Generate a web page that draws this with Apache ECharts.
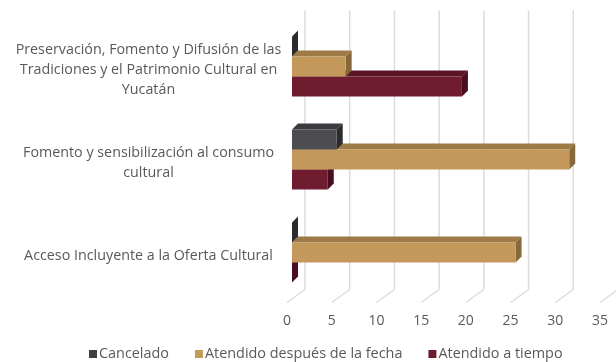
<!DOCTYPE html>
<html>
<head>
<meta charset="utf-8">
<script src="https://cdn.jsdelivr.net/npm/echarts/dist/echarts.min.js"></script>
<style>
html,body{margin:0;padding:0;background:#fff;}
#chart{width:616px;height:362px;}
</style>
</head>
<body>
<div id="chart"></div>
<script>
var categories = [
  "Preservación, Fomento y Difusión de las\nTradiciones y el Patrimonio Cultural en\nYucatán",
  "Fomento y sensibilización al consumo\ncultural",
  "Acceso Incluyente a la Oferta Cultural"
];
var seriesNames = ["Cancelado", "Atendido después de la fecha", "Atendido a tiempo"];
var cancelado = [0, 5, 0];
var atendidoDespues = [6, 31, 25];
var atendidoATiempo = [19, 4, 0];
var xTicks = [0, 5, 10, 15, 20, 25, 30, 35];

var FONT = "'Open Sans', sans-serif";
var TEXT = "#595959";
// 3D depth offsets (pixels)
var WALL_DX = 18, WALL_DY = -13;
var FACE_DX = 5, FACE_DY = -3.6;
var BAR_DX = 6, BAR_DY = -6;

var palette = [
  {front: "#4d4d51", top: "#3b3b3f", side: "#2c2c2f", legend: "#404040"},
  {front: "#c4975a", top: "#9e7b46", side: "#86683a", legend: "#c49a5a"},
  {front: "#701c30", top: "#5a1426", side: "#4a0f1e", legend: "#701c30"}
];

function barRenderer(idx) {
  var c = palette[idx];
  return function (params, api) {
    var cat = api.value(0), val = api.value(1);
    var p0 = api.coord([0, cat]);
    var p1 = api.coord([val, cat]);
    var band = api.size([0, 1])[1];
    var h = band * 0.215;
    var yTop = p0[1] + FACE_DY - 1.5 * h + idx * h;
    var x0 = p0[0] + FACE_DX, x1 = p1[0] + FACE_DX;
    return {
      type: 'group',
      children: [
        {type: 'polygon', shape: {points: [[x0, yTop], [x1, yTop], [x1 + BAR_DX, yTop + BAR_DY], [x0 + BAR_DX, yTop + BAR_DY]]}, style: {fill: c.top}},
        {type: 'polygon', shape: {points: [[x1, yTop], [x1 + BAR_DX, yTop + BAR_DY], [x1 + BAR_DX, yTop + h + BAR_DY], [x1, yTop + h]]}, style: {fill: c.side}},
        {type: 'rect', shape: {x: x0, y: yTop, width: Math.max(0, x1 - x0), height: h}, style: {fill: c.front}}
      ]
    };
  };
}

function gridRenderer(params, api) {
  var v = api.value(0);
  var cs = params.coordSys;
  var x = api.coord([v, 0])[0];
  var yb = cs.y + cs.height, yt = cs.y;
  var st = {stroke: "#dcdcdc", lineWidth: 1.5};
  return {
    type: 'group',
    children: [
      {type: 'line', shape: {x1: x + WALL_DX, y1: yt + WALL_DY, x2: x + WALL_DX, y2: yb + WALL_DY}, style: st},
      {type: 'line', shape: {x1: x, y1: yb, x2: x + WALL_DX, y2: yb + WALL_DY}, style: st}
    ]
  };
}

var values = [cancelado, atendidoDespues, atendidoATiempo];
var zs = [5, 4, 3];
var series = [{
  type: 'custom',
  name: '__grid',
  silent: true,
  clip: false,
  z: 1,
  renderItem: gridRenderer,
  encode: {x: 0},
  data: xTicks.map(function (t) { return [t]; })
}];
values.forEach(function (arr, idx) {
  series.push({
    type: 'custom',
    name: seriesNames[idx],
    z: zs[idx],
    clip: false,
    itemStyle: {color: palette[idx].legend},
    renderItem: barRenderer(idx),
    encode: {x: 1, y: 0},
    data: arr.map(function (v, i) { return [i, v]; })
  });
});

var chart = echarts.init(document.getElementById('chart'), null, {renderer: 'canvas'});
chart.setOption({
  animation: false,
  backgroundColor: '#fff',
  textStyle: {fontFamily: FONT},
  grid: {left: 287, right: 16, top: 23.5, bottom: 59.5, containLabel: false},
  legend: {
    data: seriesNames,
    top: 342,
    left: 84,
    icon: 'rect',
    itemWidth: 8,
    itemHeight: 8,
    itemGap: 26,
    textStyle: {color: TEXT, fontSize: 14.4, fontFamily: FONT, padding: [0, 0, 0, -3]}
  },
  xAxis: {
    type: 'value',
    min: 0,
    max: 35,
    interval: 5,
    axisLine: {show: false},
    axisTick: {show: false},
    splitLine: {show: false},
    axisLabel: {color: TEXT, fontSize: 14, fontFamily: FONT, margin: 12}
  },
  yAxis: {
    type: 'category',
    data: categories,
    inverse: true,
    axisLine: {show: false},
    axisTick: {show: false},
    splitLine: {show: false},
    axisLabel: {color: TEXT, fontSize: 14.3, fontFamily: FONT, align: 'center', margin: 138.5, lineHeight: 20}
  },
  series: series
});
</script>
</body>
</html>
